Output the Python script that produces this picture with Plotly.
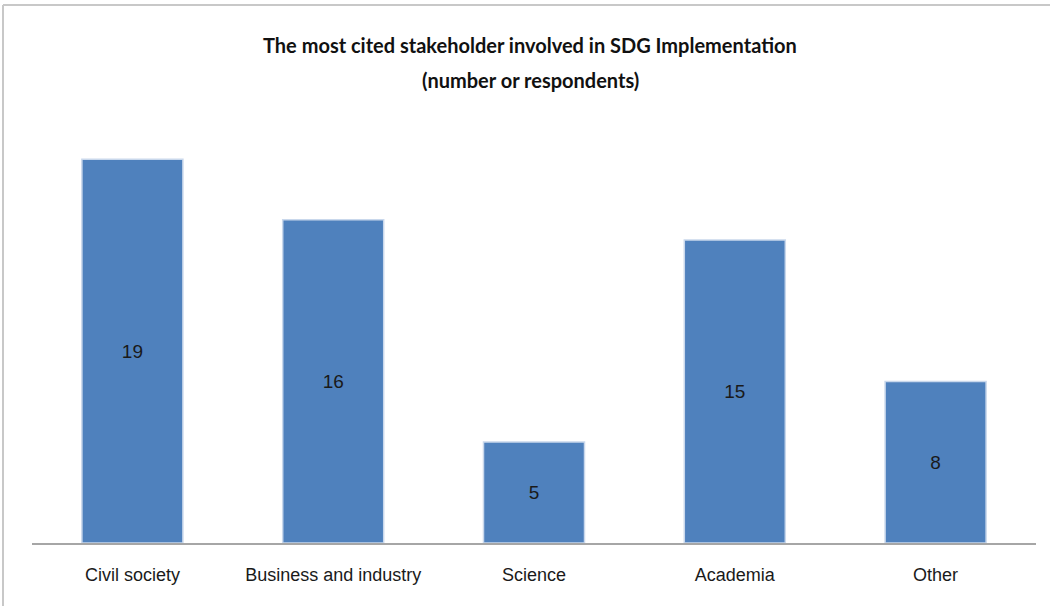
import plotly.graph_objects as go

# Stakeholder categories and number of respondents citing each
categories = ["Civil society", "Business and industry", "Science", "Academia", "Other"]
respondents = [19, 16, 5, 15, 8]

title_line1 = "The most cited stakeholder involved in SDG Implementation"
title_line2 = "(number or respondents)"

W, H = 1054, 606
left, right, top, bottom = 32, 18, 139, 63
pw, ph = W - left - right, H - top - bottom

label_font = dict(family="Liberation Sans Narrow, Liberation Sans, Arial", size=18, color="#1a1a1a")
title_font = dict(family="Lato, Open Sans, sans-serif", size=20, color="#111111")

fig = go.Figure(
    go.Bar(
        x=categories,
        y=respondents,
        text=[str(v) for v in respondents],
        textposition="inside",
        insidetextanchor="middle",
        textfont=dict(label_font, size=19),
        marker=dict(color="#4F81BD", line=dict(color="#C9D8EC", width=1.5)),
        hoverinfo="x+y",
    )
)

fig.update_layout(
    width=W,
    height=H,
    margin=dict(l=left, r=right, t=top, b=bottom),
    paper_bgcolor="white",
    plot_bgcolor="white",
    bargap=0.497,
    showlegend=False,
    xaxis=dict(
        showline=True,
        linecolor="#A6A6A6",
        linewidth=2,
        ticks="",
        ticklabelstandoff=14,
        tickfont=label_font,
        range=[-0.5, 4.5],
    ),
    yaxis=dict(
        range=[0, 20],
        showgrid=False,
        showticklabels=False,
        zeroline=False,
        showline=False,
        ticks="",
    ),
    annotations=[
        dict(
            text=f"<b>{line}</b>",
            xref="paper", yref="paper",
            x=(530 - left) / pw,
            y=1 + (top - ypix) / ph,
            xanchor="center", yanchor="middle",
            showarrow=False,
            font=title_font,
        )
        for line, ypix in ((title_line1, 45), (title_line2, 80))
    ],
    shapes=[
        # chart frame: top and left edges
        dict(type="line", xref="paper", yref="paper",
             x0=-(left - 3) / pw, x1=1 + (right - 4) / pw,
             y0=1 + (top - 5) / ph, y1=1 + (top - 5) / ph,
             line=dict(color="#C8C8C8", width=2)),
        dict(type="line", xref="paper", yref="paper",
             x0=-(left - 3) / pw, x1=-(left - 3) / pw,
             y0=1 + (top - 5) / ph, y1=-bottom / ph,
             line=dict(color="#C8C8C8", width=2)),
    ],
)

fig.write_html("out.html")
